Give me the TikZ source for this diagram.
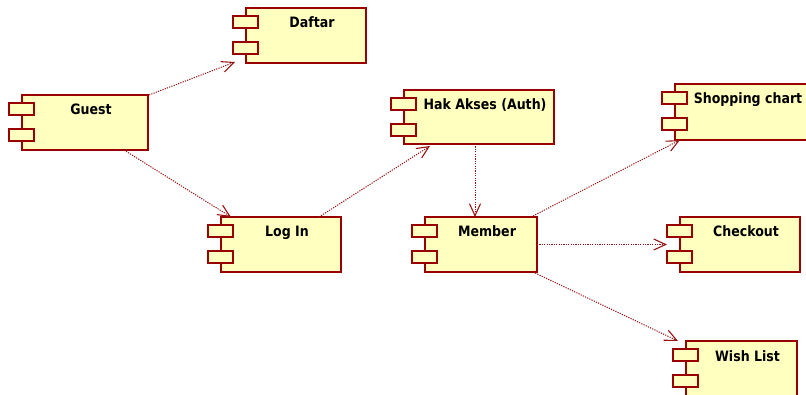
\documentclass[tikz,border=0pt]{standalone}
\usepackage{fontspec}
\setmainfont{DejaVu Sans}
\newfontfamily\complabelfont[FakeStretch=0.88]{DejaVu Sans}
\usetikzlibrary{arrows.meta,calc}

\definecolor{compfill}{RGB}{255,255,192}
\definecolor{compline}{RGB}{153,0,0}
\definecolor{deplink}{RGB}{150,20,20}

\tikzset{
  compbox/.style={draw=compline, fill=compfill, line width=1.1pt, inner sep=0pt, outer sep=0pt},
  comptab/.style={compbox, minimum width=25pt, minimum height=12pt},
  complabel/.style={font=\complabelfont\fontsize{14.3}{17}\selectfont\bfseries, text=black, inner sep=0pt},
  dependency/.style={draw=deplink, line width=1pt, dash pattern=on 1.2pt off 1.2pt,
    -{Straight Barb[length=12pt,width=11pt,line width=1.1pt]}},
}

% \component{name}{left}{top}{right}{bottom}{label}, lengths in pixels
\newcommand{\component}[6]{%
  \pgfmathsetmacro{\compw}{#4-#2}%
  \pgfmathsetmacro{\comph}{#5-#3}%
  \pgfmathsetmacro{\compcx}{(#2+12+#4)/2}%
  \node[compbox, anchor=north west, minimum width=\compw pt, minimum height=\comph pt] (#1) at (#2,#3) {};
  \node[comptab, anchor=north west] (#1-tabA) at ($(#1.north west)+(-13,8)$) {};
  \node[comptab, anchor=north west] (#1-tabB) at ($(#1.north west)+(-13,34)$) {};
  \node[complabel, anchor=base] (#1-label) at (\compcx,#3+20) {#6};
}

\begin{document}
\begin{tikzpicture}[x=1pt,y=-1pt]
  \useasboundingbox (0,0) rectangle (806,395);
  \clip (0,0) rectangle (806,395);

  % components
  \component{daftar}{246}{8}{366}{63}{Daftar}
  \component{guest}{22}{95}{148}{150}{Guest}
  \component{hak}{404}{90}{554}{144}{Hak Akses (Auth)}
  \component{shop}{675}{84}{809}{140}{Shopping chart}
  \component{login}{221}{217}{341}{272}{Log In}
  \component{member}{425}{217}{537}{272}{Member}
  \component{checkout}{680}{217}{800}{272}{Checkout}
  \component{wish}{686}{341}{797}{399}{Wish List}

  % dependencies
  \draw[dependency] ($(guest.north east)+(1,0)$) -- ($(daftar.south west)+(-11,-1)$);
  \draw[dependency] ($(guest.south west)+(102,0)$) -- ($(login.north west)+(10,0)$);
  \draw[dependency] ($(login.north west)+(98,0)$) -- ($(hak.south west)+(26,2)$);
  \draw[dependency] ($(hak.south west)+(71,0)$) -- ($(member.north west)+(50,0)$);
  \draw[dependency] ($(member.north east)+(-6,0)$) -- ($(shop.south west)+(5,0)$);
  \draw[dependency] (member.east) -- ($(checkout.west)+(-13,0)$);
  \draw[dependency] ($(member.south east)+(-4,0)$) -- ($(wish.north west)+(-8,0)$);
\end{tikzpicture}
\end{document}
